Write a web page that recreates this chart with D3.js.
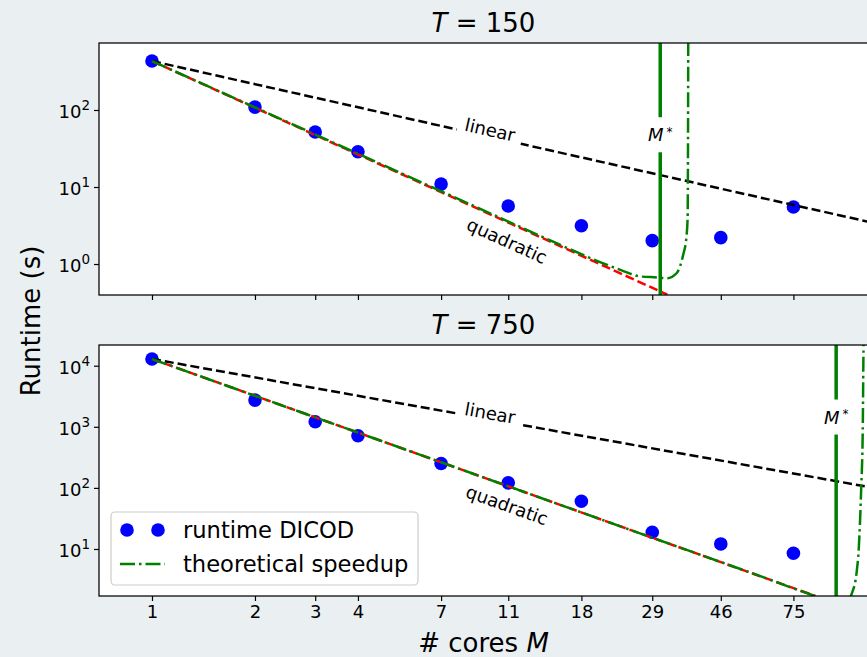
<!DOCTYPE html>
<html>
<head>
<meta charset="utf-8">
<script src="https://d3js.org/d3.v7.min.js"></script>
<style>
  body { margin: 0; background: #eaeff2; }
  svg text { font-family: "DejaVu Sans", sans-serif; fill: #000; }
</style>
</head>
<body>
<svg width="867" height="657"></svg>
<script>
// values
var cores = [1, 2, 3, 4, 7, 11, 18, 29, 46, 75];
var runtime150 = [432, 109, 51.8, 28.7, 10.9, 5.66, 3.14, 2.01, 2.20, 5.5];
var runtime750 = [12870, 2735, 1208, 713, 251, 121, 60.5, 18.8, 12.1, 8.5];

var linear150 = [[1, 432], [124, 3.54]];
var quadratic150 = [[1, 432], [32.1, 0.40]];
var linear750 = [[1, 12870], [124, 104]];
var quadratic750 = [[1, 12870], [87, 1.70]];

var theoryM150 = [1, 5, 10, 15, 20.4, 23.4, 26.7, 29.9, 32.1, 34.2, 34.9, 35.7, 36.5, 36.8, 36.9, 36.95];
var theoryV150 = [432, 17.3, 4.32, 1.92, 1.06, 0.84, 0.69, 0.67, 0.655, 0.764, 0.914, 1.31, 2.24, 4.07, 60, 1000];
var theoryM750 = [1, 10, 30, 60, 87, 100, 108, 111.2, 114.7, 116.5, 118.3, 119.6, 120.2, 120.4];
var theoryV750 = [12870, 128.7, 14.3, 3.6, 1.70, 1.35, 1.4, 1.89, 4.02, 10.8, 91.7, 879, 17800, 30000];

var mStar = [30.6, 100];
var yTicks150 = [1, 10, 100];
var yTicks750 = [10, 100, 1000, 10000];

var svg = d3.select("svg");
var left = 99, right = 868;

var x = d3.scaleLog().domain([0.70, 123.9]).range([left, right]);

var panels = [
  { T: "150", top: 43, bottom: 295, yDomain: [0.396, 741], yTicks: yTicks150,
    runtime: runtime150, linear: linear150, quadratic: quadratic150,
    theoryM: theoryM150, theoryV: theoryV150, mStar: mStar[0],
    linLabel: [9.73, 55], quadLabel: [10.9, 1.99], starLabel: 47.4, showX: false },
  { T: "750", top: 345, bottom: 596, yDomain: [1.70, 21830], yTicks: yTicks750,
    runtime: runtime750, linear: linear750, quadratic: quadratic750,
    theoryM: theoryM750, theoryV: theoryV750, mStar: mStar[1],
    linLabel: [9.73, 1671], quadLabel: [10.9, 52.1], starLabel: 1435, showX: true }
];

panels.forEach(function(p, i) {
  var y = d3.scaleLog().domain(p.yDomain).range([p.bottom, p.top]);
  var g = svg.append("g");

  g.append("rect")
    .attr("x", left).attr("y", p.top)
    .attr("width", right - left).attr("height", p.bottom - p.top)
    .attr("fill", "#fff");

  g.append("clipPath").attr("id", "clip" + i)
    .append("rect")
    .attr("x", left).attr("y", p.top)
    .attr("width", right - left).attr("height", p.bottom - p.top);

  var plot = g.append("g").attr("clip-path", "url(#clip" + i + ")");

  // measured runtimes
  plot.selectAll("circle.pt")
    .data(cores)
    .join("circle")
    .attr("class", "pt")
    .attr("cx", function(d) { return x(d); })
    .attr("cy", function(d, j) { return y(p.runtime[j]); })
    .attr("r", 6.8)
    .attr("fill", "#0000ff");

  var line = d3.line()
    .x(function(d) { return x(d[0]); })
    .y(function(d) { return y(d[1]); });

  plot.append("path")
    .datum(p.quadratic)
    .attr("d", line)
    .attr("fill", "none")
    .attr("stroke", "#ff0000")
    .attr("stroke-width", 2.5)
    .attr("stroke-dasharray", "9,4");

  plot.append("path")
    .datum(p.linear)
    .attr("d", line)
    .attr("fill", "none")
    .attr("stroke", "#000")
    .attr("stroke-width", 2.5)
    .attr("stroke-dasharray", "9,4");

  var theory = p.theoryM.map(function(m, j) { return [m, p.theoryV[j]]; });
  plot.append("path")
    .datum(theory)
    .attr("d", d3.line().curve(d3.curveMonotoneX)
      .x(function(d) { return x(d[0]); })
      .y(function(d) { return y(d[1]); }))
    .attr("fill", "none")
    .attr("stroke", "#008000")
    .attr("stroke-width", 2.5)
    .attr("stroke-dasharray", "15,4,2.5,4");

  plot.append("line")
    .attr("x1", x(p.mStar)).attr("x2", x(p.mStar))
    .attr("y1", p.top).attr("y2", p.bottom)
    .attr("stroke", "#008000")
    .attr("stroke-width", 3.5);

  // text labels with white boxes
  function boxedLabel(px, py, angle, build) {
    var lg = plot.append("g")
      .attr("transform", "translate(" + px + "," + py + ") rotate(" + angle + ")");
    var bg = lg.append("rect").attr("fill", "#fff");
    var t = lg.append("text")
      .attr("text-anchor", "middle")
      .attr("dy", "0.35em")
      .style("font-size", "18px");
    build(t);
    var b = t.node().getBBox();
    bg.attr("x", b.x - 7).attr("y", b.y - 7)
      .attr("width", b.width + 14).attr("height", b.height + 14);
    return lg;
  }

  var linAng = Math.atan2(y(p.linear[1][1]) - y(p.linear[0][1]),
                          x(p.linear[1][0]) - x(p.linear[0][0])) * 180 / Math.PI;
  var quadAng = Math.atan2(y(p.quadratic[1][1]) - y(p.quadratic[0][1]),
                           x(p.quadratic[1][0]) - x(p.quadratic[0][0])) * 180 / Math.PI;

  boxedLabel(x(p.linLabel[0]), y(p.linLabel[1]), linAng, function(t) { t.text("linear"); });
  var ql = boxedLabel(x(p.quadLabel[0]), y(p.quadLabel[1]), quadAng, function(t) { t.text("quadratic"); });
  ql.select("rect").attr("fill", "none");
  boxedLabel(x(p.mStar), y(p.starLabel), 0, function(t) {
    t.append("tspan").style("font-style", "italic").text("M");
    t.append("tspan").attr("dy", "-0.45em").attr("dx", "3").style("font-size", "12px").text("*");
  });

  // axes
  var xAxis = d3.axisBottom(x).tickValues(cores).tickSize(5).tickSizeOuter(0).tickPadding(4)
    .tickFormat(p.showX ? d3.format("d") : "");
  var xg = g.append("g").attr("transform", "translate(0," + p.bottom + ")").call(xAxis);
  xg.select(".domain").remove();
  xg.selectAll("line").attr("stroke", "#000").attr("stroke-width", 1.2);
  xg.selectAll("text").style("font-size", "18px").attr("fill", "#000");

  var yAxis = d3.axisLeft(y).tickValues(p.yTicks).tickSize(5).tickSizeOuter(0).tickPadding(4)
    .tickFormat("");
  var yg = g.append("g").attr("transform", "translate(" + left + ",0)").call(yAxis);
  yg.select(".domain").remove();
  yg.selectAll("line").attr("stroke", "#000").attr("stroke-width", 1.2);
  yg.selectAll(".tick text").each(function(d) {
    var t = d3.select(this).attr("dy", "0.42em").style("font-size", "18px");
    t.append("tspan").text("10");
    t.append("tspan").attr("dy", "-0.6em").style("font-size", "13.5px")
      .text(Math.round(Math.log10(d)));
  });

  g.append("rect")
    .attr("x", left).attr("y", p.top)
    .attr("width", right - left).attr("height", p.bottom - p.top)
    .attr("fill", "none").attr("stroke", "#000").attr("stroke-width", 1.25);

  var title = g.append("text")
    .attr("x", (left + right) / 2).attr("y", p.top - 11)
    .attr("text-anchor", "middle")
    .style("font-size", "26px");
  title.append("tspan").style("font-style", "italic").text("T");
  title.append("tspan").text(" = " + p.T);
});

// shared axis labels
svg.append("text")
  .attr("transform", "translate(40,321) rotate(-90)")
  .attr("text-anchor", "middle")
  .style("font-size", "26px")
  .text("Runtime (s)");

var xl = svg.append("text")
  .attr("x", (left + right) / 2).attr("y", 652)
  .attr("text-anchor", "middle")
  .style("font-size", "26px");
xl.append("tspan").text("# cores ");
xl.append("tspan").style("font-style", "italic").text("M");

// legend
var leg = svg.append("g");
leg.append("rect")
  .attr("x", 111).attr("y", 512).attr("width", 307).attr("height", 73)
  .attr("rx", 4)
  .attr("fill", "#fff").attr("fill-opacity", 0.8)
  .attr("stroke", "#cccccc").attr("stroke-width", 1.2);
leg.selectAll("circle")
  .data([127, 158])
  .join("circle")
  .attr("cx", function(d) { return d; })
  .attr("cy", 530)
  .attr("r", 6.8)
  .attr("fill", "#0000ff");
leg.append("line")
  .attr("x1", 120).attr("x2", 165).attr("y1", 564).attr("y2", 564)
  .attr("stroke", "#008000").attr("stroke-width", 2.5)
  .attr("stroke-dasharray", "15,4,2.5,4");
leg.append("text").attr("x", 183).attr("y", 538).style("font-size", "22.6px").text("runtime DICOD");
leg.append("text").attr("x", 183).attr("y", 572).style("font-size", "22.6px").text("theoretical speedup");
</script>
</body>
</html>
